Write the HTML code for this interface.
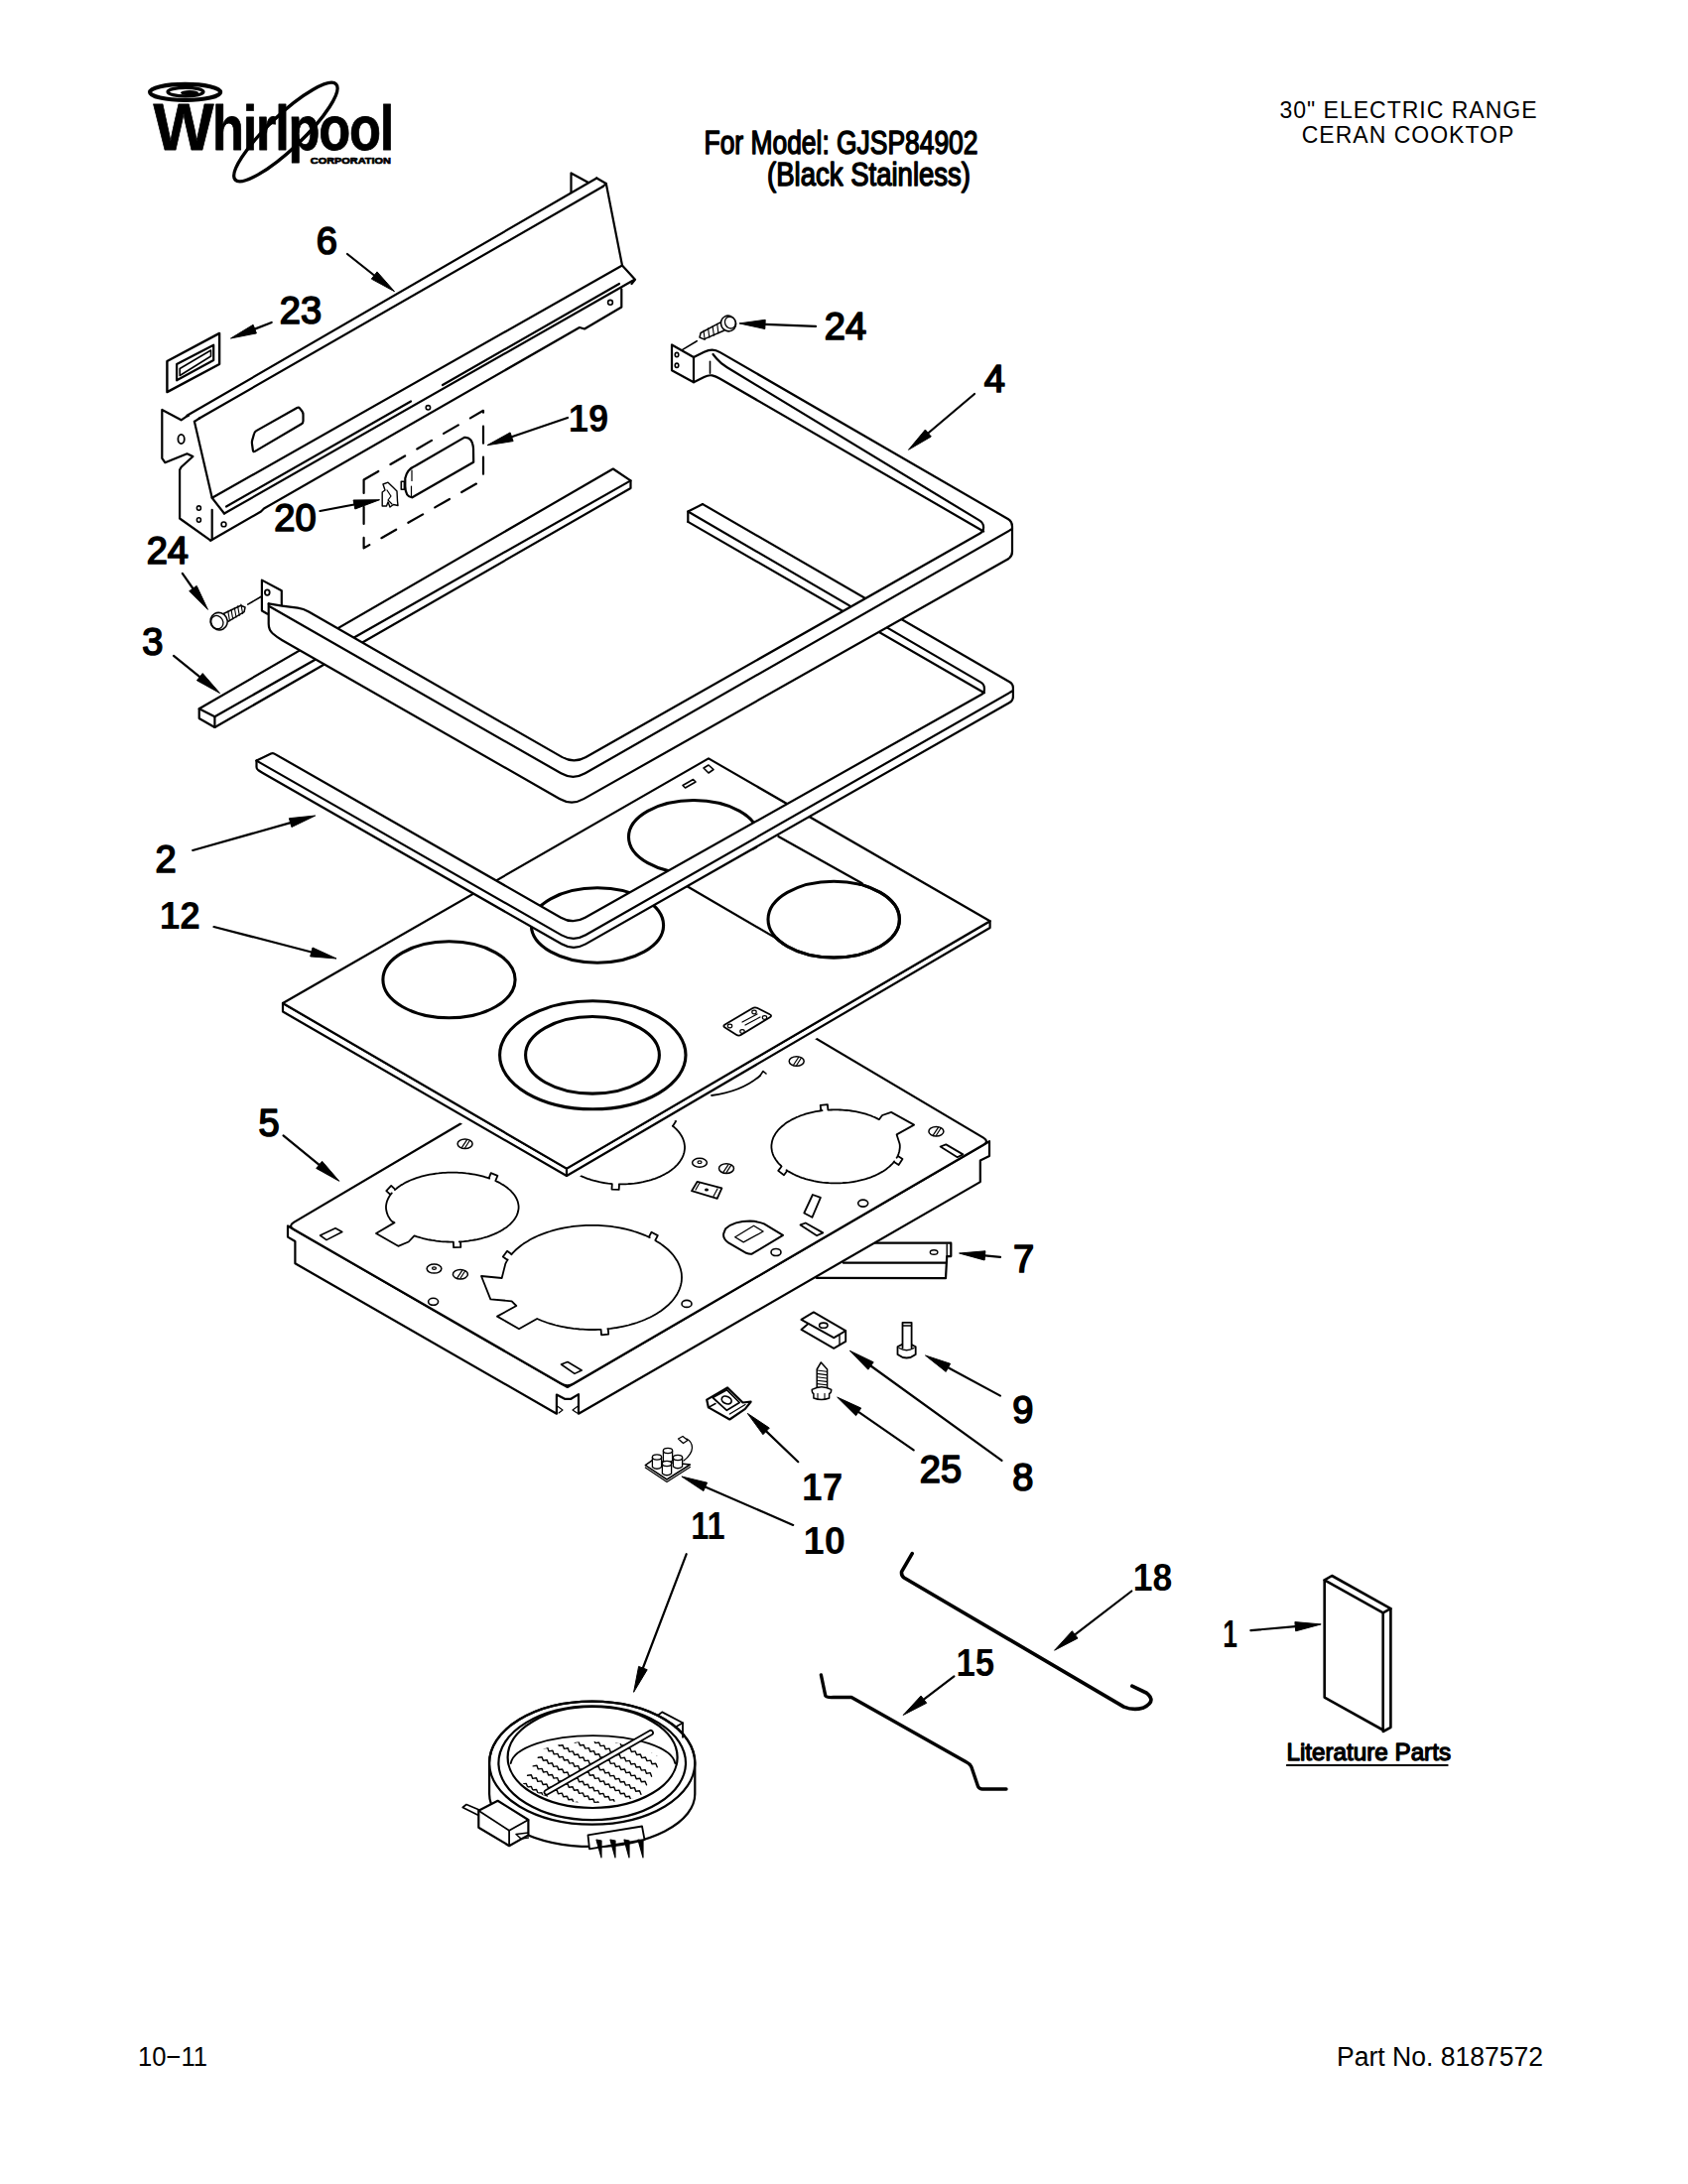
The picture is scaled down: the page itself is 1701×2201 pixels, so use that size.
<!DOCTYPE html>
<html><head><meta charset="utf-8">
<style>
html,body{margin:0;padding:0;background:#fff;overflow:hidden;}
svg{display:block;}
text{font-family:"Liberation Sans",sans-serif;fill:#000;}
</style></head><body>
<svg width="1701" height="2201" viewBox="0 0 1701 2201">
<rect width="1701" height="2201" fill="#fff"/>
<text x="154.5" y="151.2" font-size="67" font-weight="bold" stroke="#000" stroke-width="0.8" stroke-linejoin="round" text-anchor="start" textLength="61" lengthAdjust="spacingAndGlyphs">W</text>
<text x="214" y="151.2" font-size="63.5" font-weight="bold" stroke="#000" stroke-width="0.8" stroke-linejoin="round" text-anchor="start" textLength="182" lengthAdjust="spacingAndGlyphs" letter-spacing="-1.5">hirlpool</text>
<text x="312.8" y="164.6" font-size="9.4" font-weight="bold" stroke="#000" stroke-width="0.7" stroke-linejoin="round" text-anchor="start" textLength="81" lengthAdjust="spacingAndGlyphs">CORPORATION</text>
<ellipse cx="186.6" cy="92.9" rx="35.5" ry="8" fill="none" stroke="#000" stroke-width="4.2"/>
<ellipse cx="187" cy="92.6" rx="18" ry="4.2" fill="none" stroke="#000" stroke-width="3.2"/>
<ellipse cx="191" cy="93.6" rx="9" ry="2.6" fill="#000" stroke="#000" stroke-width="0"/>
<ellipse cx="287.9" cy="133.1" rx="70" ry="17" fill="none" stroke="#000" stroke-width="3.4" transform="rotate(-43.5 287.9 133.1)"/>
<line x1="188.5" y1="418.8" x2="601.3" y2="179.5" stroke="#000" stroke-width="2.2" stroke-linecap="round"/>
<line x1="201" y1="421.5" x2="607.5" y2="188" stroke="#000" stroke-width="2.2" stroke-linecap="round"/>
<polyline points="601.3,179.5 610.8,185 607.5,188" fill="none" stroke="#000" stroke-width="2.2" stroke-linejoin="round" stroke-linecap="round"/>
<polyline points="592.5,183.8 575.5,174.5 575.5,193.8" fill="none" stroke="#000" stroke-width="2.2" stroke-linejoin="round" stroke-linecap="round"/>
<polyline points="610.8,185 627,267.5 640,281.8 636.5,286" fill="none" stroke="#000" stroke-width="2.2" stroke-linejoin="round" stroke-linecap="round"/>
<line x1="213.7" y1="501.8" x2="627" y2="267.5" stroke="#000" stroke-width="2.2" stroke-linecap="round"/>
<line x1="228" y1="510.5" x2="414" y2="404.5" stroke="#000" stroke-width="2.2" stroke-linecap="round"/>
<line x1="446" y1="388" x2="624" y2="286" stroke="#000" stroke-width="2.2" stroke-linecap="round"/>
<line x1="226" y1="517.5" x2="639" y2="282" stroke="#000" stroke-width="2.2" stroke-linecap="round"/>
<polyline points="212.2,544.7 263,515.5 266,512.5 584,330 589,331.5 626.3,309.5 626.3,291.3" fill="none" stroke="#000" stroke-width="2.2" stroke-linejoin="round" stroke-linecap="round"/>
<polyline points="190,418.8 187,420.3 182.6,423.3 163.3,413 163.3,461.8 166.3,466.2 188.5,457.3 194.4,460 182.6,470.7 181.1,473.6 181.1,522.5 212.2,544.7" fill="none" stroke="#000" stroke-width="2.2" stroke-linejoin="round" stroke-linecap="round"/>
<polyline points="195.9,424.8 213.7,501.8 226,517.5" fill="none" stroke="#000" stroke-width="2.2" stroke-linejoin="round" stroke-linecap="round"/>
<line x1="201" y1="421.5" x2="195.9" y2="424.8" stroke="#000" stroke-width="2.2" stroke-linecap="round"/>
<line x1="213.7" y1="513.8" x2="213.7" y2="543.8" stroke="#000" stroke-width="2.2" stroke-linecap="round"/>
<ellipse cx="182.6" cy="442.5" rx="3.2" ry="4.6" fill="none" stroke="#000" stroke-width="1.8"/>
<ellipse cx="200.4" cy="512.1" rx="2" ry="2.2" fill="none" stroke="#000" stroke-width="1.6"/>
<ellipse cx="200.4" cy="524" rx="2" ry="2.2" fill="none" stroke="#000" stroke-width="1.6"/>
<ellipse cx="225.5" cy="528.4" rx="2.4" ry="2.4" fill="none" stroke="#000" stroke-width="1.6"/>
<ellipse cx="431.4" cy="410.8" rx="2.2" ry="2.2" fill="none" stroke="#000" stroke-width="1.6"/>
<ellipse cx="615" cy="304.8" rx="2.4" ry="2.4" fill="none" stroke="#000" stroke-width="1.6"/>
<path d="M254,447.5 Q253.7,445.5 254.2,443.6 L256.1,437 Q256.6,435.1 258.3,434.1 L299.3,411 Q301,410 302.2,411.6 L304.3,414.3 Q305.5,415.9 305.5,417.9 L305.5,424.2 Q305.5,426.2 303.8,427.2 L256.9,454.9 Q255.2,455.9 254.9,453.9 Z" fill="none" stroke="#000" stroke-width="2.2" stroke-linejoin="round" stroke-linecap="round"/>
<polygon points="168.4,364 221.1,335.9 221.1,367 168.4,395.1" fill="none" stroke="#000" stroke-width="2.4" stroke-linejoin="round" stroke-linecap="round"/>
<polygon points="178.1,367 215.2,347.7 215.2,363 178.1,383.3" fill="none" stroke="#000" stroke-width="2.2" stroke-linejoin="round" stroke-linecap="round"/>
<polygon points="181.2,371.5 212.5,353 212.5,359 181.2,378.5" fill="none" stroke="#000" stroke-width="1.6" stroke-linejoin="round" stroke-linecap="round"/>
<polygon points="366.6,483.5 487,413.8 487,483.5 366.6,552.4" fill="none" stroke="#000" stroke-width="2.2" stroke-linejoin="round" stroke-linecap="round" stroke-dasharray="17 14" stroke-linecap="butt"/>
<path d="M419,469.3 L467.9,440.9 Q476,440 477,452 L477.2,465.8 L415.4,501.3 Q408.5,501 408.3,490 L408.3,482 Q410,473 419,469.3 Z" fill="none" stroke="#000" stroke-width="2.2" stroke-linejoin="round" stroke-linecap="round"/>
<polygon points="404.3,485.3 407.4,485.3 407.4,493.3 404.3,493.3" fill="none" stroke="#000" stroke-width="1.6" stroke-linejoin="round" stroke-linecap="round"/>
<line x1="415" y1="474" x2="415" y2="484.4" stroke="#000" stroke-width="1.2" stroke-linecap="round"/>
<line x1="414.5" y1="490" x2="414.5" y2="499.5" stroke="#000" stroke-width="1.2" stroke-linecap="round"/>
<path d="M386,488 L391,486.2 L396,491 L400,495 L400.5,505 L401,509.5 L396.5,508.5 L393,511 L391,506 L389.5,510 L385.2,510 L385.2,496 L388,494 Z" fill="none" stroke="#000" stroke-width="1.4" stroke-linejoin="round" stroke-linecap="round"/>
<path d="M390,494 L394,500 L391,504 L395,508" fill="none" stroke="#000" stroke-width="1.2" stroke-linejoin="round" stroke-linecap="round"/>
<polyline points="881.9,1252.7 958.3,1252.7 958.3,1266.1 954.2,1266.1 953,1288.1 822.7,1287.8" fill="none" stroke="#000" stroke-width="2.2" stroke-linejoin="round" stroke-linecap="round"/>
<line x1="849.9" y1="1272.7" x2="953" y2="1272.7" stroke="#000" stroke-width="2.2" stroke-linecap="round"/>
<polyline points="954.2,1254 954.2,1266.1" fill="none" stroke="#000" stroke-width="1.4" stroke-linejoin="round" stroke-linecap="round"/>
<ellipse cx="941.1" cy="1262" rx="3.8" ry="2.3" fill="none" stroke="#000" stroke-width="1.4"/>
<polygon points="297.4,1251 297.4,1273.3 560.9,1424.7 560.9,1405.5 569,1409.8 575.4,1409.8 583,1405.1 583,1424.7 987.8,1191.1 987.8,1169.4 997,1165.1 997,1150.2 571.8,1398 290,1235.5 290,1246.6" fill="#fff" stroke="#000" stroke-width="2.2" stroke-linejoin="round" stroke-linecap="round"/>
<path d="M296.1,1239 Q290,1235.5 296,1231.9 L710,987.1 Q716,983.5 722,987.1 L991,1146.6 Q997,1150.2 991,1153.7 L577.8,1394.5 Q571.8,1398 565.7,1394.5 Z" fill="#fff" stroke="#000" stroke-width="2.2" stroke-linejoin="round" stroke-linecap="round"/>
<polyline points="561.5,1417 567,1421 563,1424" fill="none" stroke="#000" stroke-width="1.2" stroke-linejoin="round" stroke-linecap="round"/>
<polyline points="582.5,1417 577,1421 581.5,1424" fill="none" stroke="#000" stroke-width="1.2" stroke-linejoin="round" stroke-linecap="round"/>
<path d="M522.6,1216.6 L522.6,1217.8 L522.4,1219.0 L522.2,1220.3 L521.9,1221.5 L521.6,1222.7 L521.1,1223.9 L520.6,1225.1 L520.0,1226.2 L519.3,1227.4 L518.6,1228.6 L517.7,1229.7 L516.8,1230.8 L515.8,1231.9 L514.8,1233.0 L513.7,1234.1 L512.4,1235.1 L511.2,1236.2 L509.8,1237.2 L508.4,1238.1 L507.0,1239.1 L505.4,1240.0 L503.9,1240.9 L502.2,1241.8 L500.5,1242.6 L498.7,1243.4 L496.9,1244.2 L495.1,1244.9 L493.2,1245.6 L491.2,1246.3 L489.2,1246.9 L487.2,1247.5 L485.1,1248.1 L483.0,1248.6 L480.8,1249.1 L478.6,1249.5 L476.4,1249.9 L474.2,1250.2 L472.0,1250.6 L469.7,1250.8 L467.4,1251.1 L465.1,1251.3 L462.8,1251.4 L464.1,1251.4 L464.3,1256.9 L457.1,1257.1 L456.9,1251.6 L455.8,1251.6 L453.5,1251.6 L451.1,1251.5 L448.8,1251.4 L446.5,1251.3 L444.2,1251.1 L441.9,1250.8 L439.6,1250.6 L437.4,1250.2 L435.2,1249.9 L433.0,1249.5 L430.8,1249.1 L428.6,1248.6 L426.5,1248.1 L424.4,1247.5 L422.4,1246.9 L420.4,1246.3 L417.5,1245.3 L411.7,1251.5 L401.3,1255.8 L379.0,1243.0 L397.5,1232.1 L394.8,1230.8 L394.8,1230.8 L393.9,1229.7 L393.0,1228.6 L392.3,1227.4 L391.6,1226.2 L391.0,1225.1 L390.5,1223.9 L390.0,1222.7 L389.7,1221.5 L389.4,1220.3 L389.2,1219.0 L389.0,1217.8 L389.0,1216.6 L389.0,1215.4 L389.2,1214.2 L389.4,1212.9 L389.7,1211.7 L390.0,1210.5 L390.5,1209.3 L391.0,1208.1 L391.6,1207.0 L392.3,1205.8 L393.0,1204.6 L393.9,1203.5 L394.8,1202.4 L393.3,1203.9 L389.3,1200.1 L394.2,1194.9 L398.2,1198.6 L397.9,1199.1 L399.2,1198.1 L400.4,1197.0 L401.8,1196.0 L403.2,1195.1 L404.6,1194.1 L406.2,1193.2 L407.7,1192.3 L409.4,1191.4 L411.1,1190.6 L412.9,1189.8 L414.7,1189.0 L416.5,1188.3 L418.4,1187.6 L420.4,1186.9 L422.4,1186.3 L424.4,1185.7 L426.5,1185.1 L428.6,1184.6 L430.8,1184.1 L433.0,1183.7 L435.2,1183.3 L437.4,1183.0 L439.6,1182.6 L441.9,1182.4 L444.2,1182.1 L446.5,1181.9 L448.8,1181.8 L451.1,1181.7 L453.5,1181.6 L455.8,1181.6 L458.1,1181.6 L460.5,1181.7 L462.8,1181.8 L465.1,1181.9 L467.4,1182.1 L469.7,1182.4 L472.0,1182.6 L474.2,1183.0 L476.4,1183.3 L478.6,1183.7 L480.8,1184.1 L483.0,1184.6 L485.1,1185.1 L487.2,1185.7 L489.2,1186.3 L491.2,1186.9 L493.2,1187.6 L492.7,1187.3 L494.7,1182.2 L501.4,1184.9 L499.3,1190.0 L500.5,1190.6 L502.2,1191.4 L503.9,1192.3 L505.4,1193.2 L507.0,1194.1 L508.4,1195.1 L509.8,1196.0 L511.2,1197.0 L512.4,1198.1 L513.7,1199.1 L514.8,1200.2 L515.8,1201.3 L516.8,1202.4 L517.7,1203.5 L518.6,1204.6 L519.3,1205.8 L520.0,1207.0 L520.6,1208.1 L521.1,1209.3 L521.6,1210.5 L521.9,1211.7 L522.2,1212.9 L522.4,1214.2 L522.6,1215.4 Z" fill="#fff" stroke="#000" stroke-width="1.8" stroke-linejoin="round" stroke-linecap="round"/>
<path d="M687.0,1287.4 L686.9,1289.2 L686.8,1291.1 L686.5,1292.9 L686.1,1294.7 L685.6,1296.5 L685.0,1298.3 L684.3,1300.1 L683.5,1301.9 L682.6,1303.7 L681.5,1305.4 L680.4,1307.1 L679.2,1308.8 L677.9,1310.5 L676.4,1312.1 L674.9,1313.7 L673.3,1315.3 L671.5,1316.8 L669.7,1318.3 L667.8,1319.8 L665.9,1321.2 L663.8,1322.6 L661.6,1323.9 L659.4,1325.2 L657.1,1326.5 L654.7,1327.7 L652.3,1328.8 L649.7,1330.0 L647.2,1331.0 L644.5,1332.0 L641.8,1333.0 L639.0,1333.8 L636.2,1334.7 L633.4,1335.5 L630.5,1336.2 L627.5,1336.8 L624.5,1337.4 L621.5,1338.0 L618.5,1338.4 L615.4,1338.9 L612.3,1339.2 L612.8,1339.2 L613.2,1344.7 L606.0,1345.3 L605.6,1339.8 L602.9,1339.9 L599.8,1340.0 L596.6,1340.0 L593.4,1340.0 L590.3,1339.9 L587.2,1339.7 L584.0,1339.5 L580.9,1339.2 L577.8,1338.9 L574.7,1338.4 L571.7,1338.0 L568.7,1337.4 L565.7,1336.8 L562.7,1336.2 L559.8,1335.5 L557.0,1334.7 L554.2,1333.8 L551.4,1333.0 L548.7,1332.0 L546.0,1331.0 L541.2,1329.0 L523.0,1339.3 L501.0,1326.6 L520.3,1316.0 L515.7,1311.3 L494.3,1309.3 L485.0,1286.0 L505.7,1288.0 L509.3,1273.7 L509.7,1272.9 L510.6,1271.1 L511.7,1269.4 L511.3,1269.8 L506.8,1266.5 L511.1,1260.7 L515.5,1263.9 L515.3,1264.3 L516.8,1262.7 L518.3,1261.1 L519.9,1259.5 L521.7,1258.0 L523.5,1256.5 L525.4,1255.0 L527.3,1253.6 L529.4,1252.2 L531.6,1250.9 L533.8,1249.6 L536.1,1248.3 L538.5,1247.1 L540.9,1246.0 L543.5,1244.8 L546.0,1243.8 L548.7,1242.8 L551.4,1241.8 L554.2,1241.0 L557.0,1240.1 L559.8,1239.3 L562.7,1238.6 L565.7,1238.0 L568.7,1237.4 L571.7,1236.8 L574.7,1236.4 L577.8,1235.9 L580.9,1235.6 L584.0,1235.3 L587.2,1235.1 L590.3,1234.9 L593.4,1234.8 L596.6,1234.8 L599.8,1234.8 L602.9,1234.9 L606.0,1235.1 L609.2,1235.3 L612.3,1235.6 L615.4,1235.9 L618.5,1236.4 L621.5,1236.8 L624.5,1237.4 L627.5,1238.0 L630.5,1238.6 L633.4,1239.3 L636.2,1240.1 L639.0,1241.0 L641.8,1241.8 L644.5,1242.8 L647.2,1243.8 L649.7,1244.8 L652.3,1246.0 L654.7,1247.1 L653.9,1246.6 L656.5,1241.8 L662.8,1245.1 L660.3,1250.0 L661.6,1250.9 L663.8,1252.2 L665.9,1253.6 L667.8,1255.0 L669.7,1256.5 L671.5,1258.0 L673.3,1259.5 L674.9,1261.1 L676.4,1262.7 L677.9,1264.3 L679.2,1266.0 L680.4,1267.7 L681.5,1269.4 L682.6,1271.1 L683.5,1272.9 L684.3,1274.7 L685.0,1276.5 L685.6,1278.3 L686.1,1280.1 L686.5,1281.9 L686.8,1283.7 L686.9,1285.6 Z" fill="#fff" stroke="#000" stroke-width="1.8" stroke-linejoin="round" stroke-linecap="round"/>
<path d="M906.8,1155.4 L906.8,1156.7 L906.6,1158.0 L906.4,1159.3 L906.2,1160.5 L905.8,1161.8 L905.4,1163.1 L904.9,1164.4 L904.3,1165.6 L903.6,1166.8 L904.8,1165.0 L909.5,1168.0 L905.6,1174.0 L901.0,1171.1 L901.2,1170.4 L900.3,1171.6 L899.2,1172.8 L898.1,1173.9 L897.0,1175.0 L895.7,1176.1 L894.4,1177.1 L893.1,1178.2 L891.7,1179.2 L890.2,1180.2 L888.6,1181.1 L887.0,1182.0 L885.4,1182.9 L883.7,1183.7 L881.9,1184.6 L880.1,1185.3 L878.3,1186.1 L876.4,1186.8 L874.5,1187.4 L872.5,1188.1 L870.5,1188.7 L868.4,1189.2 L866.3,1189.7 L864.2,1190.2 L862.1,1190.6 L859.9,1191.0 L857.8,1191.3 L855.6,1191.6 L853.3,1191.8 L851.1,1192.0 L848.9,1192.2 L846.6,1192.3 L844.4,1192.4 L842.1,1192.4 L839.8,1192.4 L837.6,1192.3 L835.3,1192.2 L833.1,1192.0 L830.9,1191.8 L828.6,1191.6 L826.4,1191.3 L824.3,1191.0 L822.1,1190.6 L820.0,1190.2 L817.9,1189.7 L815.8,1189.2 L813.7,1188.7 L811.7,1188.1 L809.8,1187.4 L807.8,1186.8 L805.9,1186.1 L804.1,1185.3 L802.3,1184.6 L800.5,1183.7 L798.8,1182.9 L797.2,1182.0 L795.6,1181.1 L794.0,1180.2 L792.5,1179.2 L793.3,1179.8 L790.0,1184.2 L784.2,1179.9 L787.6,1175.5 L787.2,1175.0 L786.1,1173.9 L785.0,1172.8 L783.9,1171.6 L783.0,1170.4 L782.1,1169.3 L781.3,1168.1 L780.6,1166.8 L779.9,1165.6 L779.3,1164.4 L778.8,1163.1 L778.4,1161.8 L778.0,1160.5 L777.8,1159.3 L777.6,1158.0 L777.4,1156.7 L777.4,1155.4 L777.4,1154.1 L777.6,1152.8 L777.8,1151.5 L778.0,1150.3 L778.4,1149.0 L778.8,1147.7 L779.3,1146.4 L779.9,1145.2 L780.6,1144.0 L781.3,1142.7 L782.1,1141.5 L783.0,1140.4 L783.9,1139.2 L785.0,1138.0 L786.1,1136.9 L787.2,1135.8 L788.5,1134.7 L789.8,1133.7 L791.1,1132.6 L792.5,1131.6 L794.0,1130.6 L795.6,1129.7 L797.2,1128.8 L798.8,1127.9 L800.5,1127.1 L802.3,1126.2 L804.1,1125.5 L805.9,1124.7 L807.8,1124.0 L809.8,1123.4 L811.7,1122.7 L813.7,1122.1 L815.8,1121.6 L817.9,1121.1 L820.0,1120.6 L822.1,1120.2 L824.3,1119.8 L826.4,1119.5 L828.6,1119.2 L827.3,1119.3 L826.7,1113.9 L833.9,1113.1 L834.4,1118.6 L835.3,1118.6 L837.6,1118.5 L839.8,1118.4 L842.1,1118.4 L844.4,1118.4 L846.6,1118.5 L848.9,1118.6 L851.1,1118.8 L853.3,1119.0 L855.6,1119.2 L857.8,1119.5 L859.9,1119.8 L862.1,1120.2 L864.2,1120.6 L866.3,1121.1 L868.4,1121.6 L870.5,1122.1 L872.5,1122.7 L874.5,1123.4 L876.4,1124.0 L878.3,1124.7 L880.1,1125.5 L881.9,1126.2 L883.7,1127.1 L885.9,1128.2 L889.0,1124.0 L898.1,1120.9 L921.1,1133.6 L903.6,1143.4 L906.6,1152.8 L906.6,1152.8 L906.8,1154.1 Z" fill="#fff" stroke="#000" stroke-width="1.8" stroke-linejoin="round" stroke-linecap="round"/>
<path d="M690.0,1156.4 L690.0,1157.7 L689.8,1159.0 L689.6,1160.3 L689.4,1161.5 L689.0,1162.8 L688.6,1164.1 L688.1,1165.4 L687.5,1166.6 L686.9,1167.8 L686.1,1169.1 L685.3,1170.3 L684.5,1171.4 L683.5,1172.6 L682.5,1173.8 L681.4,1174.9 L680.3,1176.0 L679.1,1177.1 L677.8,1178.1 L676.4,1179.2 L675.0,1180.2 L673.6,1181.2 L672.0,1182.1 L670.5,1183.0 L668.8,1183.9 L667.1,1184.7 L665.4,1185.6 L663.6,1186.3 L661.8,1187.1 L659.9,1187.8 L658.0,1188.4 L656.0,1189.1 L654.1,1189.7 L652.0,1190.2 L650.0,1190.7 L647.9,1191.2 L645.8,1191.6 L643.6,1192.0 L641.5,1192.3 L639.3,1192.6 L637.1,1192.8 L634.9,1193.0 L632.7,1193.2 L630.5,1193.3 L628.2,1193.4 L626.0,1193.4 L623.8,1193.4 L624.0,1193.4 L623.7,1198.9 L616.5,1198.6 L616.8,1193.1 L614.9,1192.8 L612.7,1192.6 L610.5,1192.3 L608.4,1192.0 L606.2,1191.6 L604.1,1191.2 L602.0,1190.7 L600.0,1190.2 L597.9,1189.7 L596.0,1189.1 L594.0,1188.4 L592.1,1187.8 L590.2,1187.1 L588.4,1186.3 L586.6,1185.6 L584.9,1184.7 L583.2,1183.9 L581.5,1183.0 L580.0,1182.1 L578.4,1181.2 L577.0,1180.2 L575.6,1179.2 L574.2,1178.1 L572.9,1177.1 L571.7,1176.0 L573.1,1177.4 L569.2,1181.3 L564.1,1176.2 L568.0,1172.4 L568.5,1172.6 L567.5,1171.4 L566.7,1170.3 L565.9,1169.1 L565.1,1167.8 L564.5,1166.6 L563.9,1165.4 L563.4,1164.1 L563.0,1162.8 L562.6,1161.5 L562.4,1160.3 L562.2,1159.0 L562.0,1157.7 L562.0,1156.4 L562.0,1155.1 L562.2,1153.8 L562.4,1152.5 L562.6,1151.3 L563.0,1150.0 L563.4,1148.7 L563.9,1147.4 L564.5,1146.2 L565.1,1145.0 L565.9,1143.7 L566.7,1142.5 L567.5,1141.4 L568.5,1140.2 L569.5,1139.0 L570.6,1137.9 L571.7,1136.8 L572.9,1135.7 L574.2,1134.7 L575.6,1133.6 L577.0,1132.6 L578.4,1131.6 L580.0,1130.7 L581.5,1129.8 L583.2,1128.9 L584.9,1128.1 L586.6,1127.2 L588.4,1126.5 L590.2,1125.7 L592.1,1125.0 L594.0,1124.4 L596.0,1123.7 L597.9,1123.1 L600.0,1122.6 L602.0,1122.1 L604.1,1121.6 L606.2,1121.2 L608.4,1120.8 L610.5,1120.5 L612.7,1120.2 L614.9,1120.0 L617.1,1119.8 L619.3,1119.6 L621.5,1119.5 L623.8,1119.4 L626.0,1119.4 L628.2,1119.4 L630.5,1119.5 L632.7,1119.6 L634.9,1119.8 L637.1,1120.0 L639.3,1120.2 L641.5,1120.5 L643.6,1120.8 L645.8,1121.2 L647.9,1121.6 L650.0,1122.1 L652.0,1122.6 L654.1,1123.1 L656.0,1123.7 L658.0,1124.4 L659.9,1125.0 L661.8,1125.7 L663.6,1126.5 L665.4,1127.2 L667.1,1128.1 L668.8,1128.9 L670.5,1129.8 L672.0,1130.7 L673.6,1131.6 L672.1,1130.6 L675.2,1126.0 L681.1,1130.1 L678.0,1134.7 L677.8,1134.7 L679.1,1135.7 L680.3,1136.8 L681.4,1137.9 L682.5,1139.0 L683.5,1140.2 L684.5,1141.4 L685.3,1142.5 L686.1,1143.7 L686.9,1145.0 L687.5,1146.2 L688.1,1147.4 L688.6,1148.7 L689.0,1150.0 L689.4,1151.3 L689.6,1152.5 L689.8,1153.8 L690.0,1155.1 Z" fill="#fff" stroke="#000" stroke-width="1.8" stroke-linejoin="round" stroke-linecap="round"/>
<ellipse cx="468.6" cy="1152.7" rx="7.5" ry="4.8" fill="none" stroke="#000" stroke-width="1.5"/>
<line x1="465.6" y1="1156.2" x2="470.6" y2="1148.7" stroke="#000" stroke-width="1.2" stroke-linecap="round"/>
<line x1="468.6" y1="1156.7" x2="473.1" y2="1149.7" stroke="#000" stroke-width="1.2" stroke-linecap="round"/>
<ellipse cx="463.9" cy="1284.2" rx="7.5" ry="4.8" fill="none" stroke="#000" stroke-width="1.5"/>
<line x1="460.9" y1="1287.7" x2="465.9" y2="1280.2" stroke="#000" stroke-width="1.2" stroke-linecap="round"/>
<line x1="463.9" y1="1288.2" x2="468.4" y2="1281.2" stroke="#000" stroke-width="1.2" stroke-linecap="round"/>
<ellipse cx="732" cy="1177.6" rx="7.5" ry="4.8" fill="none" stroke="#000" stroke-width="1.5"/>
<line x1="729" y1="1181.1" x2="734" y2="1173.6" stroke="#000" stroke-width="1.2" stroke-linecap="round"/>
<line x1="732" y1="1181.6" x2="736.5" y2="1174.6" stroke="#000" stroke-width="1.2" stroke-linecap="round"/>
<ellipse cx="802.7" cy="1069.5" rx="7.5" ry="4.8" fill="none" stroke="#000" stroke-width="1.5"/>
<line x1="799.7" y1="1073" x2="804.7" y2="1065.5" stroke="#000" stroke-width="1.2" stroke-linecap="round"/>
<line x1="802.7" y1="1073.5" x2="807.2" y2="1066.5" stroke="#000" stroke-width="1.2" stroke-linecap="round"/>
<ellipse cx="943.4" cy="1140.3" rx="7.5" ry="4.8" fill="none" stroke="#000" stroke-width="1.5"/>
<line x1="940.4" y1="1143.8" x2="945.4" y2="1136.3" stroke="#000" stroke-width="1.2" stroke-linecap="round"/>
<line x1="943.4" y1="1144.3" x2="947.9" y2="1137.3" stroke="#000" stroke-width="1.2" stroke-linecap="round"/>
<ellipse cx="437.5" cy="1278.6" rx="7.4" ry="4.5" fill="none" stroke="#000" stroke-width="1.5"/>
<ellipse cx="437.5" cy="1278.1" rx="2" ry="1.3" fill="none" stroke="#000" stroke-width="1.2"/>
<ellipse cx="705" cy="1171.7" rx="7.4" ry="4.5" fill="none" stroke="#000" stroke-width="1.5"/>
<ellipse cx="705" cy="1171.2" rx="2" ry="1.3" fill="none" stroke="#000" stroke-width="1.2"/>
<ellipse cx="436.6" cy="1311.8" rx="5" ry="3.5" fill="none" stroke="#000" stroke-width="1.6"/>
<ellipse cx="692" cy="1313.9" rx="5" ry="3.5" fill="none" stroke="#000" stroke-width="1.6"/>
<ellipse cx="869.7" cy="1212.6" rx="5" ry="3.5" fill="none" stroke="#000" stroke-width="1.6"/>
<ellipse cx="782" cy="1262" rx="5" ry="3.5" fill="none" stroke="#000" stroke-width="1.6"/>
<polygon points="322.6,1245 338,1237.7 344.8,1241.5 329,1249.6" fill="none" stroke="#000" stroke-width="1.6" stroke-linejoin="round" stroke-linecap="round"/>
<polygon points="565.5,1375 572,1372.5 586.2,1381 579,1384.4" fill="none" stroke="#000" stroke-width="1.6" stroke-linejoin="round" stroke-linecap="round"/>
<polygon points="947.6,1155.5 953.3,1153.4 970.4,1163.4 964.7,1166.2" fill="none" stroke="#000" stroke-width="1.8" stroke-linejoin="round" stroke-linecap="round"/>
<polygon points="806.5,1234.4 811.8,1232.5 829.3,1242.4 823.1,1245.3" fill="none" stroke="#000" stroke-width="1.8" stroke-linejoin="round" stroke-linecap="round"/>
<polygon points="810.3,1222.5 818.9,1204 826.9,1206.9 818.4,1226.8" fill="none" stroke="#000" stroke-width="1.8" stroke-linejoin="round" stroke-linecap="round"/>
<path d="M731.2,1238.2 Q740,1230.6 755.8,1230.6 Q764,1231 770,1233.4 L789,1244.8 L757.7,1263.7 Q755,1264 752,1262.8 L734,1252.4 Q728,1248 729.3,1242.9 Z" fill="none" stroke="#000" stroke-width="2" stroke-linejoin="round" stroke-linecap="round"/>
<path d="M740.7,1246.7 L759.6,1235.3 L769.1,1241 L749.2,1251.9 Z" fill="none" stroke="#000" stroke-width="1.3" stroke-linejoin="round" stroke-linecap="round"/>
<polygon points="697,1200.2 702.7,1190.8 727.4,1197.4 722.7,1207.8" fill="none" stroke="#000" stroke-width="1.8" stroke-linejoin="round" stroke-linecap="round"/>
<line x1="701" y1="1199" x2="705" y2="1192" stroke="#000" stroke-width="1.2" stroke-linecap="round"/>
<line x1="719" y1="1205.5" x2="723" y2="1198" stroke="#000" stroke-width="1.2" stroke-linecap="round"/>
<ellipse cx="712" cy="1199" rx="2" ry="1.5" fill="#000" stroke="#000" stroke-width="0"/>
<polygon points="280,1016 571,1183 1002,933 1002,942 571,1193 280,1026" fill="#fff" stroke="#000" stroke-width="0" stroke-linejoin="round" stroke-linecap="round"/>
<polygon points="285,1011 285,1019.5 571,1185 997.6,935 997.6,928.2 571,1177.6" fill="#fff" stroke="#000" stroke-width="2.2" stroke-linejoin="round" stroke-linecap="round"/>
<polygon points="285,1011 714,764.4 997.6,928.2 571,1177.6" fill="#fff" stroke="#000" stroke-width="2.2" stroke-linejoin="round" stroke-linecap="round"/>
<line x1="571" y1="1177.6" x2="571" y2="1185" stroke="#000" stroke-width="2.2" stroke-linecap="round"/>
<ellipse cx="699" cy="843.5" rx="65.5" ry="37" fill="none" stroke="#000" stroke-width="3.1"/>
<ellipse cx="840.2" cy="926.6" rx="66.2" ry="38.4" fill="none" stroke="#000" stroke-width="3.1"/>
<ellipse cx="452.5" cy="987.3" rx="66.6" ry="38.5" fill="none" stroke="#000" stroke-width="3.1"/>
<ellipse cx="602" cy="932.5" rx="66.6" ry="37.7" fill="none" stroke="#000" stroke-width="3.1"/>
<ellipse cx="597.3" cy="1063.3" rx="93.7" ry="54.5" fill="none" stroke="#000" stroke-width="3.1"/>
<ellipse cx="597" cy="1063.3" rx="67.4" ry="38.8" fill="none" stroke="#000" stroke-width="3.1"/>
<polygon points="690,894 781.4,945.1 868.8,890.3 786,842" fill="#fff" stroke="#000" stroke-width="0" stroke-linejoin="round" stroke-linecap="round"/>
<ellipse cx="840.2" cy="926.6" rx="66.2" ry="38.4" fill="none" stroke="#000" stroke-width="3.1"/>
<line x1="692.5" y1="893.3" x2="781.4" y2="945.1" stroke="#000" stroke-width="2.2" stroke-linecap="round"/>
<line x1="784.4" y1="843" x2="868.8" y2="890.3" stroke="#000" stroke-width="2.2" stroke-linecap="round"/>
<polygon points="709,774 714,771 719,775.5 714,779" fill="none" stroke="#000" stroke-width="1.6" stroke-linejoin="round" stroke-linecap="round"/>
<polygon points="688,791.5 698.5,785.5 701,788 690.5,794" fill="none" stroke="#000" stroke-width="1.6" stroke-linejoin="round" stroke-linecap="round"/>
<path d="M730.5,1035.6 Q728,1034 730.6,1032.5 L758.1,1016.2 Q760.7,1014.7 763.4,1016 L775.7,1022.3 Q778.4,1023.6 775.8,1025.2 L747,1042.8 Q744.4,1044.4 741.9,1042.8 Z" fill="none" stroke="#000" stroke-width="1.8" stroke-linejoin="round" stroke-linecap="round"/>
<ellipse cx="735.5" cy="1034" rx="2.2" ry="1.8" fill="none" stroke="#000" stroke-width="1.2"/>
<ellipse cx="748" cy="1039.5" rx="2.2" ry="1.8" fill="none" stroke="#000" stroke-width="1.2"/>
<ellipse cx="760" cy="1020" rx="2.2" ry="1.8" fill="none" stroke="#000" stroke-width="1.2"/>
<ellipse cx="770.5" cy="1025.5" rx="2.2" ry="1.8" fill="none" stroke="#000" stroke-width="1.2"/>
<line x1="748" y1="1030" x2="763" y2="1022" stroke="#000" stroke-width="1.2" stroke-linecap="round"/>
<line x1="751" y1="1033" x2="766" y2="1025" stroke="#000" stroke-width="1.2" stroke-linecap="round"/>
<path d="M717,1104 Q748,1100 766,1084" fill="none" stroke="#000" stroke-width="1.8" stroke-linejoin="round" stroke-linecap="round"/>
<polyline points="766,1084 769,1079.5 772,1082" fill="none" stroke="#000" stroke-width="1.6" stroke-linejoin="round" stroke-linecap="round"/>
<path d="M704.5,509.9 Q708.1,508.1 711.6,510.1 L1017.4,687.3 Q1020.9,689.3 1020.9,693.3 L1020.9,702 Q1020.9,706 1017.4,708 L590.2,951.4 Q578,958.3 565.8,951.3 L265.6,779.5 Q263,778 260.8,776.5 L260.2,776.1 Q258.5,775 258.5,773 L258.5,768.6 Q258.5,766.6 260.3,765.7 L273,759.5 Q274.8,758.6 276.5,759.6 L565.2,924.7 Q577.4,931.7 589.6,924.8 L989.3,699.7 Q991.9,698.2 989.3,696.7 L696.8,527.9 Q693.3,525.9 693.3,521.9 L693.3,519.5 Q693.3,515.5 696.9,513.7 Z" fill="#fff" stroke="#000" stroke-width="0" stroke-linejoin="round" stroke-linecap="round"/>
<path d="M708.1,508.1 L1017.4,687.3 Q1020.9,689.3 1020.9,693.3 L1020.9,702 Q1020.9,706 1017.4,708 L590.2,951.4 Q578,958.3 565.8,951.3 L265.6,779.5 Q263,778 260.8,776.5 L260.2,776.1 Q258.5,775 258.5,773 L258.5,766.6" fill="none" stroke="#000" stroke-width="2.2" stroke-linejoin="round" stroke-linecap="round"/>
<path d="M693.3,515.5 L988.4,687.6 Q991.9,689.6 991.9,693.6 L991.9,695.2 Q991.9,698.2 989.3,699.7 L589.6,924.8 Q577.4,931.7 565.2,924.7 L276.5,759.6 Q274.8,758.6 273,759.5 L258.5,766.6" fill="none" stroke="#000" stroke-width="2.2" stroke-linejoin="round" stroke-linecap="round"/>
<path d="M1020.9,696 L590.2,942.3 Q578,949.3 565.8,942.4 L258.5,766.6" fill="none" stroke="#000" stroke-width="2.2" stroke-linejoin="round" stroke-linecap="round"/>
<polyline points="693.3,525.9 991.9,698.2" fill="none" stroke="#000" stroke-width="2.2" stroke-linejoin="round" stroke-linecap="round"/>
<polyline points="708.1,508.1 693.3,515.5 693.3,525.9" fill="none" stroke="#000" stroke-width="2.2" stroke-linejoin="round" stroke-linecap="round"/>
<polygon points="200.7,714.2 617.8,472.5 635.5,484.4 635.5,492 216.4,733 200.7,724" fill="#fff" stroke="#000" stroke-width="2.2" stroke-linejoin="round" stroke-linecap="round"/>
<line x1="216.4" y1="722.2" x2="635.5" y2="484.4" stroke="#000" stroke-width="2.2" stroke-linecap="round"/>
<line x1="200.7" y1="714.2" x2="216.4" y2="722.2" stroke="#000" stroke-width="2.2" stroke-linecap="round"/>
<line x1="216.4" y1="722.2" x2="216.4" y2="733" stroke="#000" stroke-width="2.2" stroke-linecap="round"/>
<path d="M699,364 Q699,360 702.6,358.2 L709.5,354.8 Q714,352.6 717.7,352.6 L717.7,352.6 Q721.4,352.6 725.7,355.1 L1015.7,523 Q1020,525.5 1020,530.5 L1020,556 Q1020,561 1015.6,563.5 L588.2,805.1 Q576,812 563.8,805 L284.4,645.2 Q279.2,642.2 274.9,638.5 L274.9,638.5 Q270.7,634.7 270.7,628.7 L270.7,611.4 Q270.7,608.4 273.7,608.9 L278.3,609.6 Q284.2,610.6 290.1,611.4 L300,612.7 Q305.9,613.5 311.1,616.5 L566.2,762.9 Q578.3,769.9 590.5,763 L987.6,537.5 Q991.1,535.5 987.6,533.5 L725.7,381.7 Q721.4,379.2 717.7,378.4 L717.7,378.4 Q714,377.7 709.5,379.9 L702.6,383.4 Q699,385.2 699,381.2 Z" fill="#fff" stroke="#000" stroke-width="0" stroke-linejoin="round" stroke-linecap="round"/>
<path d="M699,360 L709.5,354.8 Q714,352.6 717.7,352.6 L717.7,352.6 Q721.4,352.6 725.7,355.1 L1015.7,523 Q1020,525.5 1020,530.5 L1020,556 Q1020,561 1015.6,563.5 L588.2,805.1 Q576,812 563.8,805 L284.4,645.2 Q279.2,642.2 274.9,638.5 L274.9,638.5 Q270.7,634.7 270.7,628.7 L270.7,608.4" fill="none" stroke="#000" stroke-width="2.2" stroke-linejoin="round" stroke-linecap="round"/>
<path d="M270.7,608.4 L278.3,609.6 Q284.2,610.6 290.1,611.4 L300,612.7 Q305.9,613.5 311.1,616.5 L566.2,762.9 Q578.3,769.9 590.5,763 L987.6,537.5 Q991.1,535.5 991.1,531.5 L991.1,531.2 Q991.1,527 986.8,524.4 L732.7,370.2 Q725.9,366 722.2,361.5 L718.5,357" fill="none" stroke="#000" stroke-width="2.2" stroke-linejoin="round" stroke-linecap="round"/>
<path d="M1020,533 L589.7,779.3 Q577.5,786.3 565.3,779.3 L271.8,611.3" fill="none" stroke="#000" stroke-width="2.2" stroke-linejoin="round" stroke-linecap="round"/>
<path d="M699,385.2 L709.5,379.9 Q714,377.7 717.7,378.4 L717.7,378.4 Q721.4,379.2 725.7,381.7 L991.1,535.5" fill="none" stroke="#000" stroke-width="2.2" stroke-linejoin="round" stroke-linecap="round"/>
<line x1="715.5" y1="364.4" x2="715.5" y2="376.3" stroke="#000" stroke-width="1.6" stroke-linecap="round"/>
<polygon points="699,360 677,347.5 677,373.3 699,385.2" fill="none" stroke="#000" stroke-width="2.2" stroke-linejoin="round" stroke-linecap="round"/>
<ellipse cx="682" cy="357.6" rx="1.8" ry="2.2" fill="none" stroke="#000" stroke-width="1.6"/>
<ellipse cx="682" cy="368.3" rx="1.8" ry="2.2" fill="none" stroke="#000" stroke-width="1.6"/>
<polyline points="269.6,618.7 263.9,615.5 263.9,584.6 283.8,595.3 283.8,610" fill="none" stroke="#000" stroke-width="2.2" stroke-linejoin="round" stroke-linecap="round"/>
<ellipse cx="269.3" cy="597.1" rx="2.4" ry="2.8" fill="none" stroke="#000" stroke-width="1.8"/>
<line x1="687.4" y1="352.6" x2="702.2" y2="343.7" stroke="#000" stroke-width="1.6" stroke-linecap="round"/>
<line x1="249.7" y1="609.1" x2="263.2" y2="601.3" stroke="#000" stroke-width="1.6" stroke-linecap="round"/>
<polygon points="726,324.9 706.1,335.5 705,340 709.3,341.9 729.9,333" fill="#fff" stroke="#000" stroke-width="1.5" stroke-linejoin="round" stroke-linecap="round"/>
<line x1="722.7" y1="326.4" x2="723.9" y2="335.9" stroke="#000" stroke-width="1.1" stroke-linecap="round"/>
<line x1="718.1" y1="328.7" x2="719.4" y2="338.1" stroke="#000" stroke-width="1.1" stroke-linecap="round"/>
<line x1="713.6" y1="330.9" x2="714.8" y2="340.3" stroke="#000" stroke-width="1.1" stroke-linecap="round"/>
<line x1="709" y1="333.1" x2="710.2" y2="342.5" stroke="#000" stroke-width="1.1" stroke-linecap="round"/>
<ellipse cx="734" cy="326" rx="7.5" ry="7.9" fill="#fff" stroke="#000" stroke-width="1.6" transform="rotate(154.2 734 326)"/>
<ellipse cx="735.8" cy="325.1" rx="5.2" ry="6" fill="#fff" stroke="#000" stroke-width="1.3" transform="rotate(154.2 735.8 325.1)"/>
<polygon points="229.5,626.6 246.1,616.7 247,612 242.6,610.2 225.2,618.5" fill="#fff" stroke="#000" stroke-width="1.5" stroke-linejoin="round" stroke-linecap="round"/>
<line x1="231.5" y1="625.6" x2="229.8" y2="616.1" stroke="#000" stroke-width="1.1" stroke-linecap="round"/>
<line x1="234.7" y1="623.8" x2="233" y2="614.3" stroke="#000" stroke-width="1.1" stroke-linecap="round"/>
<line x1="238" y1="622" x2="236.3" y2="612.5" stroke="#000" stroke-width="1.1" stroke-linecap="round"/>
<line x1="241.3" y1="620.3" x2="239.6" y2="610.8" stroke="#000" stroke-width="1.1" stroke-linecap="round"/>
<line x1="244.6" y1="618.5" x2="242.9" y2="609" stroke="#000" stroke-width="1.1" stroke-linecap="round"/>
<ellipse cx="220.6" cy="626.2" rx="8.5" ry="8.9" fill="#fff" stroke="#000" stroke-width="1.6" transform="rotate(-28.3 220.6 626.2)"/>
<ellipse cx="218.8" cy="627.1" rx="5.9" ry="6.8" fill="#fff" stroke="#000" stroke-width="1.3" transform="rotate(-28.3 218.8 627.1)"/>
<polygon points="807.4,1329.9 819.9,1322.4 852.2,1341.1 840.2,1348.2" fill="#fff" stroke="#000" stroke-width="1.9" stroke-linejoin="round" stroke-linecap="round"/>
<polyline points="814.5,1334 807.4,1339.9 840.2,1358.9 852.2,1351.9 852.2,1341.1" fill="none" stroke="#000" stroke-width="1.9" stroke-linejoin="round" stroke-linecap="round"/>
<polyline points="846,1344.8 846,1355.2" fill="none" stroke="#000" stroke-width="1.4" stroke-linejoin="round" stroke-linecap="round"/>
<polyline points="840.2,1348.2 846,1344.8" fill="none" stroke="#000" stroke-width="1.5" stroke-linejoin="round" stroke-linecap="round"/>
<ellipse cx="829.8" cy="1335.7" rx="4.2" ry="2.6" fill="none" stroke="#000" stroke-width="1.6"/>
<path d="M904.5,1357.3 L904.5,1365 Q913.6,1372 922.7,1365 L922.7,1357.3 Q913.6,1351 904.5,1357.3 Z" fill="#fff" stroke="#000" stroke-width="1.8" stroke-linejoin="round" stroke-linecap="round"/>
<path d="M906,1358.5 Q913.6,1363 921,1358.5" fill="none" stroke="#000" stroke-width="1.3" stroke-linejoin="round" stroke-linecap="round"/>
<polyline points="909.5,1358.5 909.5,1332.8 918.6,1332.8 918.6,1358.5" fill="#fff" stroke="#000" stroke-width="1.8" stroke-linejoin="round" stroke-linecap="round"/>
<line x1="909.8" y1="1336" x2="918.3" y2="1336" stroke="#000" stroke-width="1.3" stroke-linecap="round"/>
<path d="M823.2,1400 L823.2,1380 L827.3,1373 L833.6,1380 L833.6,1400" fill="#fff" stroke="#000" stroke-width="1.5" stroke-linejoin="round" stroke-linecap="round"/>
<line x1="823.5" y1="1381" x2="833" y2="1382.2" stroke="#000" stroke-width="1.1" stroke-linecap="round"/>
<line x1="823.5" y1="1384.4" x2="833" y2="1385.6" stroke="#000" stroke-width="1.1" stroke-linecap="round"/>
<line x1="823.5" y1="1387.8" x2="833" y2="1389" stroke="#000" stroke-width="1.1" stroke-linecap="round"/>
<line x1="823.5" y1="1391.2" x2="833" y2="1392.4" stroke="#000" stroke-width="1.1" stroke-linecap="round"/>
<line x1="823.5" y1="1394.6" x2="833" y2="1395.8" stroke="#000" stroke-width="1.1" stroke-linecap="round"/>
<line x1="823.5" y1="1398" x2="833" y2="1399.2" stroke="#000" stroke-width="1.1" stroke-linecap="round"/>
<path d="M818.2,1400.4 Q827.9,1395 837.7,1400.4 Q837.7,1404 835.6,1404.5 L835.6,1409 Q827.9,1412 819.9,1409 L819.9,1404.5 Q818.2,1404 818.2,1400.4 Z" fill="#fff" stroke="#000" stroke-width="1.5" stroke-linejoin="round" stroke-linecap="round"/>
<line x1="824" y1="1404.5" x2="824" y2="1410" stroke="#000" stroke-width="1.1" stroke-linecap="round"/>
<line x1="831" y1="1404.5" x2="831" y2="1410" stroke="#000" stroke-width="1.1" stroke-linecap="round"/>
<polygon points="712.2,1410.6 733.1,1398.5 748.5,1413.5 756.6,1412.7 750.9,1419.9 735.3,1430.5 713.9,1418.4" fill="#fff" stroke="#000" stroke-width="2.2" stroke-linejoin="round" stroke-linecap="round"/>
<polygon points="718.2,1408.5 732.4,1400.7 745.2,1413.5 732.4,1421.3" fill="none" stroke="#000" stroke-width="1.7" stroke-linejoin="round" stroke-linecap="round"/>
<ellipse cx="732.2" cy="1411" rx="5.2" ry="3.6" fill="none" stroke="#000" stroke-width="1.7" transform="rotate(25 732.2 1411)"/>
<line x1="713.9" y1="1418.4" x2="721" y2="1414.5" stroke="#000" stroke-width="1.5" stroke-linecap="round"/>
<line x1="735.3" y1="1425" x2="751" y2="1415.5" stroke="#000" stroke-width="1.3" stroke-linecap="round"/>
<polygon points="650.3,1476.7 657,1471.8 695.4,1476 672,1491" fill="#fff" stroke="#000" stroke-width="1.5" stroke-linejoin="round" stroke-linecap="round"/>
<polyline points="650.3,1479 672,1493.5 695.4,1478.5" fill="none" stroke="#000" stroke-width="1.2" stroke-linejoin="round" stroke-linecap="round"/>
<path d="M668.4,1462 L668.4,1472 Q673,1475.5 677.6,1472 L677.6,1462" fill="#fff" stroke="#000" stroke-width="1.3" stroke-linejoin="round" stroke-linecap="round"/>
<ellipse cx="673" cy="1462" rx="4.6" ry="2.6" fill="#fff" stroke="#000" stroke-width="1.3"/>
<path d="M657.4,1468.5 L657.4,1478.5 Q662,1482.0 666.6,1478.5 L666.6,1468.5" fill="#fff" stroke="#000" stroke-width="1.3" stroke-linejoin="round" stroke-linecap="round"/>
<ellipse cx="662" cy="1468.5" rx="4.6" ry="2.6" fill="#fff" stroke="#000" stroke-width="1.3"/>
<path d="M678.4,1469 L678.4,1478 Q683,1481.5 687.6,1478 L687.6,1469" fill="#fff" stroke="#000" stroke-width="1.3" stroke-linejoin="round" stroke-linecap="round"/>
<ellipse cx="683" cy="1469" rx="4.6" ry="2.6" fill="#fff" stroke="#000" stroke-width="1.3"/>
<path d="M667.4,1475 L667.4,1485 Q672,1488.5 676.6,1485 L676.6,1475" fill="#fff" stroke="#000" stroke-width="1.3" stroke-linejoin="round" stroke-linecap="round"/>
<ellipse cx="672" cy="1475" rx="4.6" ry="2.6" fill="#fff" stroke="#000" stroke-width="1.3"/>
<path d="M689,1472 Q697,1466 697.5,1459 Q697.5,1453 692,1450" fill="none" stroke="#000" stroke-width="1.3" stroke-linejoin="round" stroke-linecap="round"/>
<polygon points="683.5,1450 688,1447.5 693,1451.5 688.5,1454.5" fill="none" stroke="#000" stroke-width="1.3" stroke-linejoin="round" stroke-linecap="round"/>
<path d="M919.2,1565.6 L908.6,1583.8 Q908,1588 911,1590 L1132.5,1720.1 Q1142,1724 1151.5,1721.3 Q1161,1717 1159.8,1712 Q1158,1707 1153,1705 L1140.8,1699.2" fill="none" stroke="#000" stroke-width="3.6" stroke-linejoin="round" stroke-linecap="round"/>
<path d="M827.4,1688 L831.8,1709 Q833,1711 840,1710.5 L858,1710.5 L973.7,1775.8 Q978,1778 979,1781 L985.6,1800.5 Q987,1803 990,1803 L1014,1803" fill="none" stroke="#000" stroke-width="3.4" stroke-linejoin="round" stroke-linecap="round"/>
<polygon points="1334.7,1592.4 1334.7,1710.6 1393.7,1743.5 1393.7,1625.3" fill="none" stroke="#000" stroke-width="2.6" stroke-linejoin="round" stroke-linecap="round"/>
<polyline points="1334.7,1592.4 1342.2,1588 1401.4,1621.2 1393.7,1625.3" fill="none" stroke="#000" stroke-width="2.6" stroke-linejoin="round" stroke-linecap="round"/>
<polyline points="1401.4,1621.2 1401.4,1740.8 1393.7,1745" fill="none" stroke="#000" stroke-width="2.6" stroke-linejoin="round" stroke-linecap="round"/>
<text x="1296.5" y="1773.5" font-size="24" stroke="#000" stroke-width="1.3" stroke-linejoin="round" text-anchor="start" textLength="165.5" lengthAdjust="spacingAndGlyphs">Literature Parts</text>
<line x1="1296.9" y1="1779" x2="1458.6" y2="1779" stroke="#000" stroke-width="2.2" stroke-linecap="round"/>
<path d="M493.1,1776.6 L493.1,1808 A103.6,53 0 0 0 700.3,1808 L700.3,1776.6 A103.6,62 0 0 0 493.1,1776.6 Z" fill="#fff" stroke="#000" stroke-width="2.2" stroke-linejoin="round" stroke-linecap="round"/>
<ellipse cx="596.7" cy="1776.6" rx="103.6" ry="62" fill="none" stroke="#000" stroke-width="2.2"/>
<ellipse cx="596.7" cy="1776.7" rx="94.3" ry="57.4" fill="none" stroke="#000" stroke-width="2.2"/>
<ellipse cx="597.1" cy="1771" rx="85.5" ry="51" fill="none" stroke="#000" stroke-width="2.2"/>
<path d="M514.7,1777 A83,30 0 0 1 680.3,1777" fill="none" stroke="#000" stroke-width="1.8" stroke-linejoin="round" stroke-linecap="round"/>
<clipPath id="dish"><ellipse cx="597.5" cy="1786" rx="76" ry="31"/></clipPath>
<g clip-path="url(#dish)">
<polyline points="585.1,1699 588.9,1698.5 590.3,1702.1 594.1,1701.5 595.4,1705.1 599.3,1704.6 600.6,1708.2 604.4,1707.7 605.8,1711.3 609.6,1710.7 610.9,1714.3 614.7,1713.8 616.1,1717.4 619.9,1716.8 621.2,1720.4 625.1,1719.9 626.4,1723.5 630.2,1723 631.6,1726.6 635.4,1726 636.7,1729.6 640.5,1729.1 641.9,1732.7 645.7,1732.1 647,1735.7 650.9,1735.2 652.2,1738.8 656,1738.3 657.4,1741.9 661.2,1741.3 662.5,1744.9 666.3,1744.4 667.7,1748 671.5,1747.4 672.8,1751 676.7,1750.5 678,1754.1" fill="none" stroke="#000" stroke-width="1.4" stroke-linejoin="round" stroke-linecap="round"/>
<polyline points="580,1707.6 583.8,1707.1 585.2,1710.7 589,1710.1 590.3,1713.7 594.2,1713.2 595.5,1716.8 599.3,1716.3 600.7,1719.9 604.5,1719.3 605.8,1722.9 609.6,1722.4 611,1726 614.8,1725.4 616.1,1729 620,1728.5 621.3,1732.1 625.1,1731.6 626.5,1735.2 630.3,1734.6 631.6,1738.2 635.4,1737.7 636.8,1741.3 640.6,1740.7 641.9,1744.3 645.8,1743.8 647.1,1747.4 650.9,1746.9 652.3,1750.5 656.1,1749.9 657.4,1753.5 661.2,1753 662.6,1756.6 666.4,1756 667.7,1759.6 671.6,1759.1 672.9,1762.7" fill="none" stroke="#000" stroke-width="1.4" stroke-linejoin="round" stroke-linecap="round"/>
<polyline points="574.4,1717.1 578.2,1716.5 579.6,1720.1 583.4,1719.6 584.7,1723.2 588.5,1722.7 589.9,1726.3 593.7,1725.7 595.1,1729.3 598.9,1728.8 600.2,1732.4 604,1731.8 605.4,1735.4 609.2,1734.9 610.5,1738.5 614.3,1738 615.7,1741.6 619.5,1741 620.9,1744.6 624.7,1744.1 626,1747.7 629.8,1747.1 631.2,1750.7 635,1750.2 636.3,1753.8 640.1,1753.3 641.5,1756.9 645.3,1756.3 646.7,1759.9 650.5,1759.4 651.8,1763 655.6,1762.4 657,1766 660.8,1765.5 662.1,1769.1 665.9,1768.6 667.3,1772.2" fill="none" stroke="#000" stroke-width="1.4" stroke-linejoin="round" stroke-linecap="round"/>
<polyline points="569.3,1725.7 573.1,1725.1 574.5,1728.7 578.3,1728.2 579.6,1731.8 583.4,1731.3 584.8,1734.9 588.6,1734.3 590,1737.9 593.8,1737.4 595.1,1741 598.9,1740.4 600.3,1744 604.1,1743.5 605.4,1747.1 609.2,1746.6 610.6,1750.2 614.4,1749.6 615.8,1753.2 619.6,1752.7 620.9,1756.3 624.7,1755.7 626.1,1759.3 629.9,1758.8 631.2,1762.4 635,1761.9 636.4,1765.5 640.2,1764.9 641.6,1768.5 645.4,1768 646.7,1771.6 650.5,1771 651.9,1774.6 655.7,1774.1 657,1777.7 660.8,1777.2 662.2,1780.8" fill="none" stroke="#000" stroke-width="1.4" stroke-linejoin="round" stroke-linecap="round"/>
<polyline points="563.7,1735.1 567.5,1734.6 568.9,1738.2 572.7,1737.7 574,1741.3 577.8,1740.7 579.2,1744.3 583,1743.8 584.3,1747.4 588.2,1746.8 589.5,1750.4 593.3,1749.9 594.7,1753.5 598.5,1753 599.8,1756.6 603.6,1756 605,1759.6 608.8,1759.1 610.1,1762.7 614,1762.1 615.3,1765.7 619.1,1765.2 620.5,1768.8 624.3,1768.3 625.6,1771.9 629.4,1771.3 630.8,1774.9 634.6,1774.4 635.9,1778 639.8,1777.4 641.1,1781 644.9,1780.5 646.3,1784.1 650.1,1783.6 651.4,1787.2 655.2,1786.6 656.6,1790.2" fill="none" stroke="#000" stroke-width="1.4" stroke-linejoin="round" stroke-linecap="round"/>
<polyline points="558.6,1743.7 562.4,1743.2 563.8,1746.8 567.6,1746.3 568.9,1749.9 572.7,1749.3 574.1,1752.9 577.9,1752.4 579.2,1756 583.1,1755.4 584.4,1759 588.2,1758.5 589.6,1762.1 593.4,1761.6 594.7,1765.2 598.5,1764.6 599.9,1768.2 603.7,1767.7 605,1771.3 608.9,1770.7 610.2,1774.3 614,1773.8 615.4,1777.4 619.2,1776.9 620.5,1780.5 624.3,1779.9 625.7,1783.5 629.5,1783 630.8,1786.6 634.7,1786 636,1789.6 639.8,1789.1 641.2,1792.7 645,1792.2 646.3,1795.8 650.1,1795.2 651.5,1798.8" fill="none" stroke="#000" stroke-width="1.4" stroke-linejoin="round" stroke-linecap="round"/>
<polyline points="553,1753.2 556.8,1752.7 558.2,1756.3 562,1755.7 563.3,1759.3 567.1,1758.8 568.5,1762.4 572.3,1761.8 573.6,1765.4 577.4,1764.9 578.8,1768.5 582.6,1768 584,1771.6 587.8,1771 589.1,1774.6 592.9,1774.1 594.3,1777.7 598.1,1777.1 599.4,1780.7 603.2,1780.2 604.6,1783.8 608.4,1783.3 609.8,1786.9 613.6,1786.3 614.9,1789.9 618.7,1789.4 620.1,1793 623.9,1792.4 625.2,1796 629,1795.5 630.4,1799.1 634.2,1798.6 635.6,1802.2 639.4,1801.6 640.7,1805.2 644.5,1804.7 645.9,1808.3" fill="none" stroke="#000" stroke-width="1.4" stroke-linejoin="round" stroke-linecap="round"/>
<polyline points="547.9,1761.8 551.7,1761.3 553.1,1764.9 556.9,1764.3 558.2,1767.9 562,1767.4 563.4,1771 567.2,1770.4 568.5,1774 572.3,1773.5 573.7,1777.1 577.5,1776.6 578.9,1780.2 582.7,1779.6 584,1783.2 587.8,1782.7 589.2,1786.3 593,1785.7 594.3,1789.3 598.1,1788.8 599.5,1792.4 603.3,1791.9 604.7,1795.5 608.5,1794.9 609.8,1798.5 613.6,1798 615,1801.6 618.8,1801 620.1,1804.6 623.9,1804.1 625.3,1807.7 629.1,1807.2 630.5,1810.8 634.3,1810.2 635.6,1813.8 639.4,1813.3 640.8,1816.9" fill="none" stroke="#000" stroke-width="1.4" stroke-linejoin="round" stroke-linecap="round"/>
<polyline points="542.3,1771.3 546.1,1770.7 547.4,1774.3 551.3,1773.8 552.6,1777.4 556.4,1776.8 557.8,1780.4 561.6,1779.9 562.9,1783.5 566.7,1783 568.1,1786.6 571.9,1786 573.2,1789.6 577.1,1789.1 578.4,1792.7 582.2,1792.1 583.6,1795.7 587.4,1795.2 588.7,1798.8 592.5,1798.3 593.9,1801.9 597.7,1801.3 599,1804.9 602.9,1804.4 604.2,1808 608,1807.4 609.4,1811 613.2,1810.5 614.5,1814.1 618.3,1813.6 619.7,1817.2 623.5,1816.6 624.8,1820.2 628.7,1819.7 630,1823.3 633.8,1822.7 635.2,1826.3" fill="none" stroke="#000" stroke-width="1.4" stroke-linejoin="round" stroke-linecap="round"/>
<polyline points="537.2,1779.9 541,1779.3 542.3,1782.9 546.2,1782.4 547.5,1786 551.3,1785.4 552.7,1789 556.5,1788.5 557.8,1792.1 561.6,1791.6 563,1795.2 566.8,1794.6 568.1,1798.2 572,1797.7 573.3,1801.3 577.1,1800.7 578.5,1804.3 582.3,1803.8 583.6,1807.4 587.4,1806.9 588.8,1810.5 592.6,1809.9 593.9,1813.5 597.8,1813 599.1,1816.6 602.9,1816 604.3,1819.6 608.1,1819.1 609.4,1822.7 613.2,1822.2 614.6,1825.8 618.4,1825.2 619.7,1828.8 623.6,1828.3 624.9,1831.9 628.7,1831.3 630.1,1834.9" fill="none" stroke="#000" stroke-width="1.4" stroke-linejoin="round" stroke-linecap="round"/>
<polyline points="531.6,1789.3 535.4,1788.8 536.7,1792.4 540.5,1791.8 541.9,1795.4 545.7,1794.9 547.1,1798.5 550.9,1798 552.2,1801.6 556,1801 557.4,1804.6 561.2,1804.1 562.5,1807.7 566.3,1807.1 567.7,1810.7 571.5,1810.2 572.9,1813.8 576.7,1813.3 578,1816.9 581.8,1816.3 583.2,1819.9 587,1819.4 588.3,1823 592.1,1822.4 593.5,1826 597.3,1825.5 598.7,1829.1 602.5,1828.6 603.8,1832.2 607.6,1831.6 609,1835.2 612.8,1834.7 614.1,1838.3 617.9,1837.7 619.3,1841.3 623.1,1840.8 624.5,1844.4" fill="none" stroke="#000" stroke-width="1.4" stroke-linejoin="round" stroke-linecap="round"/>
<polyline points="526.5,1797.9 530.3,1797.4 531.6,1801 535.4,1800.4 536.8,1804 540.6,1803.5 542,1807.1 545.8,1806.6 547.1,1810.2 550.9,1809.6 552.3,1813.2 556.1,1812.7 557.4,1816.3 561.2,1815.7 562.6,1819.3 566.4,1818.8 567.8,1822.4 571.6,1821.9 572.9,1825.5 576.7,1824.9 578.1,1828.5 581.9,1828 583.2,1831.6 587,1831 588.4,1834.6 592.2,1834.1 593.6,1837.7 597.4,1837.2 598.7,1840.8 602.5,1840.2 603.9,1843.8 607.7,1843.3 609,1846.9 612.8,1846.3 614.2,1849.9 618,1849.4 619.4,1853" fill="none" stroke="#000" stroke-width="1.4" stroke-linejoin="round" stroke-linecap="round"/>
<polyline points="520.9,1807.4 524.7,1806.8 526,1810.4 529.8,1809.9 531.2,1813.5 535,1813 536.3,1816.6 540.2,1816 541.5,1819.6 545.3,1819.1 546.7,1822.7 550.5,1822.1 551.8,1825.7 555.6,1825.2 557,1828.8 560.8,1828.3 562.1,1831.9 566,1831.3 567.3,1834.9 571.1,1834.4 572.5,1838 576.3,1837.4 577.6,1841 581.4,1840.5 582.8,1844.1 586.6,1843.6 587.9,1847.2 591.8,1846.6 593.1,1850.2 596.9,1849.7 598.3,1853.3 602.1,1852.7 603.4,1856.3 607.2,1855.8 608.6,1859.4 612.4,1858.9 613.7,1862.5" fill="none" stroke="#000" stroke-width="1.4" stroke-linejoin="round" stroke-linecap="round"/>
<polyline points="515.8,1816 519.6,1815.4 520.9,1819 524.7,1818.5 526.1,1822.1 529.9,1821.6 531.2,1825.2 535.1,1824.6 536.4,1828.2 540.2,1827.7 541.6,1831.3 545.4,1830.7 546.7,1834.3 550.5,1833.8 551.9,1837.4 555.7,1836.9 557,1840.5 560.9,1839.9 562.2,1843.5 566,1843 567.4,1846.6 571.2,1846 572.5,1849.6 576.3,1849.1 577.7,1852.7 581.5,1852.2 582.8,1855.8 586.7,1855.2 588,1858.8 591.8,1858.3 593.2,1861.9 597,1861.3 598.3,1864.9 602.1,1864.4 603.5,1868 607.3,1867.5 608.6,1871.1" fill="none" stroke="#000" stroke-width="1.4" stroke-linejoin="round" stroke-linecap="round"/>
</g>
<path d="M550.9,1806.3 L655.6,1746.2" fill="none" stroke="#000" stroke-width="6.5" stroke-linejoin="round" stroke-linecap="round"/>
<path d="M550.9,1806.3 L655.6,1746.2" stroke="#fff" stroke-width="3" stroke-linecap="round"/>
<polyline points="663.3,1728.5 667.2,1725.4 688,1736.2 688,1750.8" fill="none" stroke="#000" stroke-width="1.8" stroke-linejoin="round" stroke-linecap="round"/>
<line x1="680.3" y1="1740.8" x2="688" y2="1736.2" stroke="#000" stroke-width="1.6" stroke-linecap="round"/>
<polygon points="482.3,1824.8 501.6,1814.8 532.4,1834 532.4,1849.4 513.1,1860.2 482.3,1841.7" fill="#fff" stroke="#000" stroke-width="2.2" stroke-linejoin="round" stroke-linecap="round"/>
<polyline points="482.3,1824.8 513.1,1844.8 532.4,1834" fill="none" stroke="#000" stroke-width="1.8" stroke-linejoin="round" stroke-linecap="round"/>
<line x1="513.1" y1="1844.8" x2="513.1" y2="1860.2" stroke="#000" stroke-width="1.8" stroke-linecap="round"/>
<polyline points="482.3,1829.5 466.2,1821.5 470,1818.5 483,1824" fill="none" stroke="#000" stroke-width="1.6" stroke-linejoin="round" stroke-linecap="round"/>
<polyline points="532.4,1847 520,1848.5 525,1853 532.4,1852" fill="none" stroke="#000" stroke-width="1.5" stroke-linejoin="round" stroke-linecap="round"/>
<polygon points="592.5,1849.4 647,1840.5 649.5,1854 594,1863.3" fill="#fff" stroke="#000" stroke-width="1.8" stroke-linejoin="round" stroke-linecap="round"/>
<polygon points="601,1854 606,1872 606,1855" fill="#000" stroke="#000" stroke-width="1.2" stroke-linejoin="round" stroke-linecap="round"/>
<polygon points="615,1854 620,1872 620,1855" fill="#000" stroke="#000" stroke-width="1.2" stroke-linejoin="round" stroke-linecap="round"/>
<polygon points="629,1854 634,1872 634,1855" fill="#000" stroke="#000" stroke-width="1.2" stroke-linejoin="round" stroke-linecap="round"/>
<polygon points="643,1854 648,1872 648,1855" fill="#000" stroke="#000" stroke-width="1.2" stroke-linejoin="round" stroke-linecap="round"/>
<text x="1419.5" y="118.8" font-size="23" text-anchor="middle" letter-spacing="1">30" ELECTRIC RANGE</text>
<text x="1419" y="144.3" font-size="23" text-anchor="middle" letter-spacing="1">CERAN COOKTOP</text>
<text x="709.5" y="155.3" font-size="33.5" stroke="#000" stroke-width="1.5" stroke-linejoin="round" text-anchor="start" textLength="276" lengthAdjust="spacingAndGlyphs">For Model: GJSP84902</text>
<text x="773" y="186.5" font-size="33.5" stroke="#000" stroke-width="1.5" stroke-linejoin="round" text-anchor="start" textLength="205" lengthAdjust="spacingAndGlyphs">(Black Stainless)</text>
<text x="139" y="2082" font-size="27" text-anchor="start" textLength="70" lengthAdjust="spacingAndGlyphs">10−11</text>
<text x="1347" y="2082" font-size="27" text-anchor="start" textLength="208" lengthAdjust="spacingAndGlyphs">Part No. 8187572</text>
<text x="318.8" y="255.6" font-size="38" stroke="#000" stroke-width="1.7" stroke-linejoin="round" text-anchor="start">6</text>
<text x="281.8" y="325.6" font-size="38" stroke="#000" stroke-width="1.7" stroke-linejoin="round" text-anchor="start">23</text>
<text x="830.8" y="342.1" font-size="38" stroke="#000" stroke-width="1.7" stroke-linejoin="round" text-anchor="start">24</text>
<text x="991.8" y="395.1" font-size="38" stroke="#000" stroke-width="1.7" stroke-linejoin="round" text-anchor="start">4</text>
<text x="572.7" y="435" font-size="39" font-weight="bold" text-anchor="start" textLength="40.5" lengthAdjust="spacingAndGlyphs">19</text>
<text x="276.3" y="534.6" font-size="38" stroke="#000" stroke-width="1.7" stroke-linejoin="round" text-anchor="start">20</text>
<text x="147.7" y="567.6" font-size="38" stroke="#000" stroke-width="1.7" stroke-linejoin="round" text-anchor="start">24</text>
<text x="143.2" y="659.6" font-size="38" stroke="#000" stroke-width="1.7" stroke-linejoin="round" text-anchor="start">3</text>
<text x="156.6" y="878.6" font-size="38" stroke="#000" stroke-width="1.7" stroke-linejoin="round" text-anchor="start">2</text>
<text x="160.7" y="936" font-size="39" font-weight="bold" text-anchor="start" textLength="41.2" lengthAdjust="spacingAndGlyphs">12</text>
<text x="260.6" y="1144.6" font-size="38" stroke="#000" stroke-width="1.7" stroke-linejoin="round" text-anchor="start">5</text>
<text x="1021.1" y="1281.6" font-size="38" stroke="#000" stroke-width="1.7" stroke-linejoin="round" text-anchor="start">7</text>
<text x="1020.2" y="1433.6" font-size="38" stroke="#000" stroke-width="1.7" stroke-linejoin="round" text-anchor="start">9</text>
<text x="926.8" y="1494.1" font-size="38" stroke="#000" stroke-width="1.7" stroke-linejoin="round" text-anchor="start">25</text>
<text x="1020.2" y="1501.6" font-size="38" stroke="#000" stroke-width="1.7" stroke-linejoin="round" text-anchor="start">8</text>
<text x="808.1" y="1511.5" font-size="39" font-weight="bold" text-anchor="start" textLength="41.2" lengthAdjust="spacingAndGlyphs">17</text>
<text x="809.5" y="1565.5" font-size="39" font-weight="bold" text-anchor="start" textLength="42.4" lengthAdjust="spacingAndGlyphs">10</text>
<text x="696.3" y="1550.5" font-size="39" font-weight="bold" text-anchor="start" textLength="34.4" lengthAdjust="spacingAndGlyphs">11</text>
<text x="1141.7" y="1602.5" font-size="39" font-weight="bold" text-anchor="start" textLength="39.5" lengthAdjust="spacingAndGlyphs">18</text>
<text x="963.5" y="1688.5" font-size="39" font-weight="bold" text-anchor="start" textLength="38.7" lengthAdjust="spacingAndGlyphs">15</text>
<text x="1232.3" y="1660" font-size="39" font-weight="bold" text-anchor="start" textLength="14.7" lengthAdjust="spacingAndGlyphs">1</text>
<line x1="350" y1="256" x2="377.1" y2="277.5" stroke="#000" stroke-width="2.2" stroke-linecap="round"/>
<polygon points="397.5,293.7 374.3,281.1 380,273.9" fill="#000" stroke="#000" stroke-width="1" stroke-linejoin="miter"/>
<line x1="273.7" y1="325" x2="256.7" y2="331.6" stroke="#000" stroke-width="2.2" stroke-linecap="round"/>
<polygon points="232.5,341 255.1,327.3 258.4,335.9" fill="#000" stroke="#000" stroke-width="1" stroke-linejoin="miter"/>
<line x1="822" y1="328.9" x2="771" y2="326.9" stroke="#000" stroke-width="2.2" stroke-linecap="round"/>
<polygon points="745,325.9 771.2,322.3 770.8,331.5" fill="#000" stroke="#000" stroke-width="1" stroke-linejoin="miter"/>
<line x1="982" y1="397" x2="935.3" y2="436.5" stroke="#000" stroke-width="2.2" stroke-linecap="round"/>
<polygon points="915.5,453.3 932.4,433 938.3,440" fill="#000" stroke="#000" stroke-width="1" stroke-linejoin="miter"/>
<line x1="572" y1="421" x2="515.6" y2="440.3" stroke="#000" stroke-width="2.2" stroke-linecap="round"/>
<polygon points="491,448.7 514.1,435.9 517.1,444.6" fill="#000" stroke="#000" stroke-width="1" stroke-linejoin="miter"/>
<line x1="322.5" y1="515" x2="356.9" y2="508.5" stroke="#000" stroke-width="2.2" stroke-linecap="round"/>
<polygon points="382.5,503.7 357.8,513 356.1,504" fill="#000" stroke="#000" stroke-width="1" stroke-linejoin="miter"/>
<line x1="183.8" y1="577.9" x2="194.4" y2="593" stroke="#000" stroke-width="2.2" stroke-linecap="round"/>
<polygon points="209.4,614.3 190.7,595.7 198.2,590.4" fill="#000" stroke="#000" stroke-width="1" stroke-linejoin="miter"/>
<line x1="175" y1="660.9" x2="201.3" y2="682.2" stroke="#000" stroke-width="2.2" stroke-linecap="round"/>
<polygon points="221.5,698.5 198.4,685.7 204.2,678.6" fill="#000" stroke="#000" stroke-width="1" stroke-linejoin="miter"/>
<line x1="194.2" y1="857" x2="292.7" y2="829.1" stroke="#000" stroke-width="2.2" stroke-linecap="round"/>
<polygon points="317.7,822 293.9,833.5 291.4,824.7" fill="#000" stroke="#000" stroke-width="1" stroke-linejoin="miter"/>
<line x1="215.5" y1="934" x2="313.8" y2="959.5" stroke="#000" stroke-width="2.2" stroke-linecap="round"/>
<polygon points="339,966 312.7,963.9 315,955" fill="#000" stroke="#000" stroke-width="1" stroke-linejoin="miter"/>
<line x1="285.5" y1="1144.4" x2="321.6" y2="1173.9" stroke="#000" stroke-width="2.2" stroke-linecap="round"/>
<polygon points="341.8,1190.3 318.7,1177.4 324.6,1170.3" fill="#000" stroke="#000" stroke-width="1" stroke-linejoin="miter"/>
<line x1="1008" y1="1266.8" x2="992.5" y2="1265.4" stroke="#000" stroke-width="2.2" stroke-linecap="round"/>
<polygon points="966.6,1263 992.9,1260.8 992.1,1270" fill="#000" stroke="#000" stroke-width="1" stroke-linejoin="miter"/>
<line x1="1008" y1="1406.6" x2="955.4" y2="1378.3" stroke="#000" stroke-width="2.2" stroke-linecap="round"/>
<polygon points="932.5,1366 957.6,1374.3 953.2,1382.4" fill="#000" stroke="#000" stroke-width="1" stroke-linejoin="miter"/>
<line x1="920.7" y1="1461.4" x2="865.1" y2="1422.9" stroke="#000" stroke-width="2.2" stroke-linecap="round"/>
<polygon points="843.7,1408.1 867.7,1419.1 862.5,1426.7" fill="#000" stroke="#000" stroke-width="1" stroke-linejoin="miter"/>
<line x1="1009.5" y1="1471.8" x2="877.5" y2="1376.5" stroke="#000" stroke-width="2.2" stroke-linecap="round"/>
<polygon points="856.4,1361.3 880.2,1372.8 874.8,1380.2" fill="#000" stroke="#000" stroke-width="1" stroke-linejoin="miter"/>
<line x1="804.3" y1="1473.2" x2="772.1" y2="1442.4" stroke="#000" stroke-width="2.2" stroke-linecap="round"/>
<polygon points="753.3,1424.4 775.3,1439.1 768.9,1445.7" fill="#000" stroke="#000" stroke-width="1" stroke-linejoin="miter"/>
<line x1="799.2" y1="1536.9" x2="710.7" y2="1498.4" stroke="#000" stroke-width="2.2" stroke-linecap="round"/>
<polygon points="686.9,1488 712.6,1494.2 708.9,1502.6" fill="#000" stroke="#000" stroke-width="1" stroke-linejoin="miter"/>
<line x1="691.7" y1="1566.2" x2="647.9" y2="1681" stroke="#000" stroke-width="2.2" stroke-linecap="round"/>
<polygon points="638.6,1705.3 643.6,1679.4 652.2,1682.7" fill="#000" stroke="#000" stroke-width="1" stroke-linejoin="miter"/>
<line x1="1140.3" y1="1603.5" x2="1083.2" y2="1647.4" stroke="#000" stroke-width="2.2" stroke-linecap="round"/>
<polygon points="1062.6,1663.2 1080.4,1643.7 1086,1651" fill="#000" stroke="#000" stroke-width="1" stroke-linejoin="miter"/>
<line x1="961.4" y1="1689.3" x2="930.9" y2="1712.6" stroke="#000" stroke-width="2.2" stroke-linecap="round"/>
<polygon points="910.2,1728.4 928.1,1709 933.7,1716.3" fill="#000" stroke="#000" stroke-width="1" stroke-linejoin="miter"/>
<line x1="1260.4" y1="1643.1" x2="1305.3" y2="1639.2" stroke="#000" stroke-width="2.2" stroke-linecap="round"/>
<polygon points="1331.2,1636.9 1305.7,1643.8 1304.9,1634.6" fill="#000" stroke="#000" stroke-width="1" stroke-linejoin="miter"/>
</svg>
</body></html>
